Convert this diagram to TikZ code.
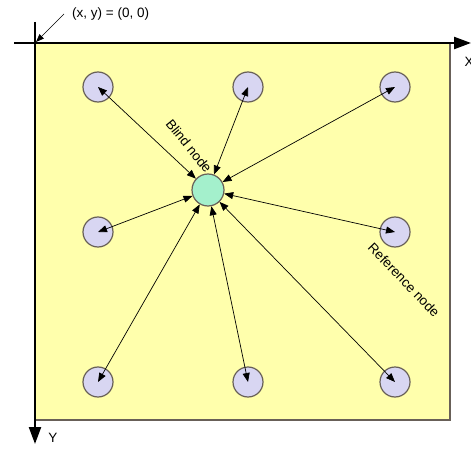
\documentclass[tikz,border=0pt]{standalone}
\usepackage{fontspec}
\setmainfont{Liberation Sans}
\definecolor{fieldyellow}{RGB}{255,255,172}
\definecolor{refblue}{RGB}{216,214,242}
\definecolor{blindgreen}{RGB}{164,240,204}
\definecolor{rimgray}{RGB}{104,96,88}
\usetikzlibrary{arrows.meta}

\begin{document}
\begin{tikzpicture}[x=1pt, y=-1pt,
    refnode/.style={circle, draw=rimgray, line width=1.2pt, fill=refblue,
      minimum size=30pt, inner sep=0pt},
    blindnode/.style={circle, draw=rimgray, line width=1.2pt, fill=blindgreen,
      minimum size=32pt, inner sep=0pt},
    link/.style={{Triangle[length=9pt,width=7pt]}-{Triangle[length=9pt,width=7pt]},
      black, line width=0.7pt},
    axis/.style={-{Triangle[length=17pt,width=12pt]}, black, line width=2.2pt},
    lbl/.style={font=\fontsize{13.5}{15}\selectfont, inner sep=0pt},
  ]
    \useasboundingbox (0,0) rectangle (471,449);

    % field
    \fill[fieldyellow] (35,43) rectangle (450,420);
    \draw[rimgray, line width=1.3pt] (35,420) -- (450,420) -- (450,43);

    % axes
    \coordinate (xstart) at (14,43);
    \coordinate (xend) at (471,43);
    \coordinate (ystart) at (35,22);
    \coordinate (yend) at (35,444);
    \draw[axis] (xstart) -- (xend);
    \draw[axis] (ystart) -- (yend);
    \node[lbl] (xlab) at (469,62) {X};
    \node[lbl] (ylab) at (53,438) {Y};

    % origin
    \coordinate (origin) at (36,42);
    \node[lbl, anchor=west] (orig) at (72,14) {(x, y) = (0, 0)};
    \coordinate (ptr) at (64,14);
    \draw[-{Triangle[length=8pt,width=6pt]}, line width=0.7pt] (ptr) -- (origin);

    % reference nodes
    \node[refnode] (r1) at (98,87) {};
    \node[refnode] (r2) at (248,87) {};
    \node[refnode] (r3) at (395,87) {};
    \node[refnode] (r4) at (98,232) {};
    \node[refnode] (r5) at (395,232) {};
    \node[refnode] (r6) at (98,382) {};
    \node[refnode] (r7) at (248,382) {};
    \node[refnode] (r8) at (395,382) {};

    % blind node
    \node[blindnode] (blind) at (208,190) {};

    \draw[link] (blind) -- (r1.center);
    \draw[link] (blind) -- (r2.center);
    \draw[link] (blind) -- (r3.center);
    \draw[link] (blind) -- (r4.center);
    \draw[link] (blind) -- (r5.center);
    \draw[link] (blind) -- (r6.center);
    \draw[link] (blind) -- (r7.center);
    \draw[link] (blind) -- (r8.center);

    \node[lbl, rotate=-51] (blindlab) at (189,146) {Blind node};
    \node[lbl, rotate=-46] (reflab) at (404,280) {Reference node};
  \end{tikzpicture}
\end{document}
